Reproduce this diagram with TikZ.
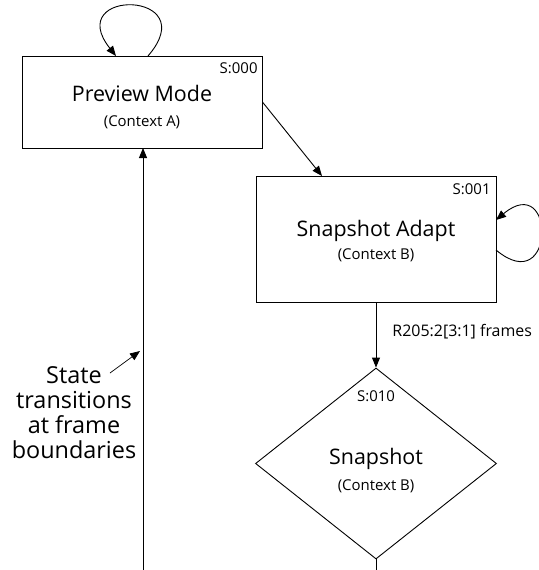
\documentclass[tikz,border=0pt]{standalone}
\usepackage{fontspec}
\setmainfont{Open Sans}
\usetikzlibrary{arrows.meta,shapes.geometric}
\begin{document}
\begin{tikzpicture}[x=1bp,y=-1bp,
  line width=0.9bp,
  arr/.style={-{Triangle[length=10bp,width=8bp]}},
  statebox/.style={draw,rectangle,inner sep=0pt},
  bigtxt/.style={font=\fontsize{21.5}{24}\selectfont,inner sep=0pt,anchor=base},
  smalltxt/.style={font=\fontsize{15}{17}\selectfont,inner sep=0pt,anchor=base},
  idtxt/.style={font=\fontsize{15}{17}\selectfont,inner sep=0pt,anchor=base east},
  lbltxt/.style={font=\fontsize{16}{18}\selectfont,inner sep=0pt,anchor=base west},
  notetxt/.style={font=\fontsize{23.5}{25}\selectfont,inner sep=0pt,align=center,anchor=base}]
\useasboundingbox (0,0) rectangle (539,570);
% states
\node[statebox,minimum width=240bp,minimum height=92bp] (A) at (142,102) {};
\node[statebox,minimum width=240bp,minimum height=126bp] (B) at (376,239) {};
\node[draw,diamond,inner sep=0pt,minimum width=241bp,minimum height=191bp] (D) at (376,463.5) {};
% texts
\node[idtxt] (a0) at (258,74) {S:000};
\node[bigtxt] (a1) at (142,102) {Preview Mode};
\node[smalltxt] (a2) at (142,127) {(Context A)};
\node[idtxt] (b0) at (491,194) {S:001};
\node[bigtxt] (b1) at (376,236) {Snapshot Adapt};
\node[smalltxt] (b2) at (376,259) {(Context B)};
\node[smalltxt] (d0) at (376,401) {S:010};
\node[bigtxt] (d1) at (376,464) {Snapshot};
\node[smalltxt] (d2) at (376,490) {(Context B)};
\node[notetxt] (note) at (74,458) {State\\transitions\\at frame\\boundaries};
% coordinates
\coordinate (bl) at (143,570);
\coordinate (db) at (376,570);
\coordinate (ns) at (110,373);
\coordinate (ne) at (140,351);
% connectors
\draw[arr] (148,56) .. controls (205,-10) and (62,-12) .. (116,56);
\draw[arr] (bl) -- (143,148);
\draw[arr] (A.east) -- (322,176);
\draw[arr] (496,250) .. controls (556,300) and (556,170) .. (496,220);
\draw[arr] (B.south) -- (D.north) node[lbltxt,pos=0.52,xshift=16bp] (lab) {R205:2[3:1] frames};
\draw (D.south) -- (db);
\draw[arr,line width=0.7bp] (ns) -- (ne);
\end{tikzpicture}
\end{document}
